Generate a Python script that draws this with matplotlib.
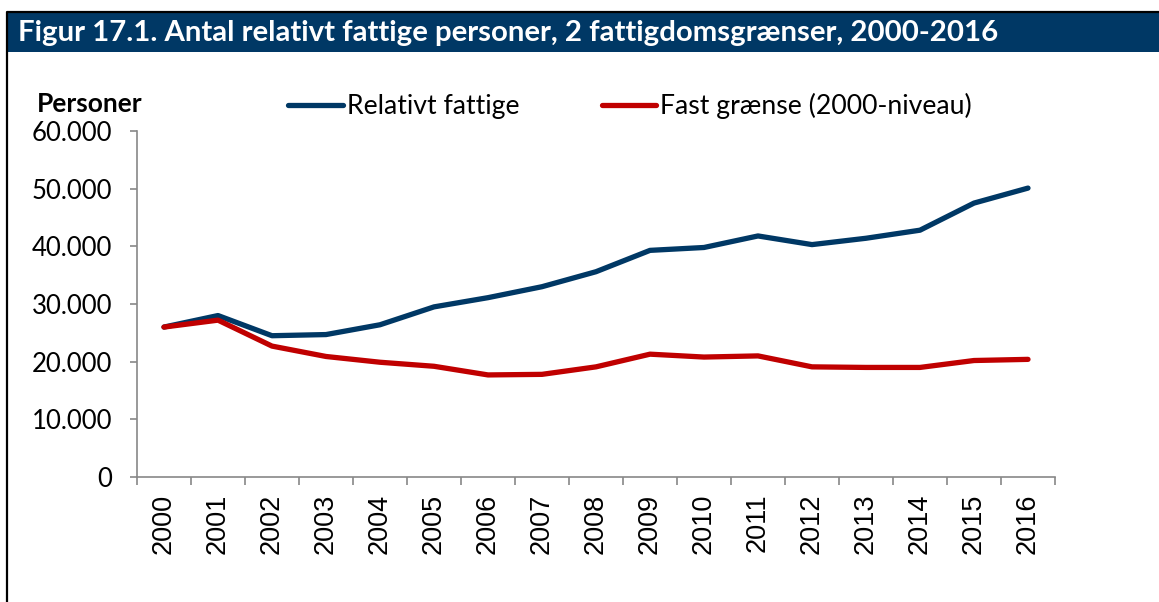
import numpy as np
import matplotlib
matplotlib.use('Agg')
import matplotlib.pyplot as plt
from matplotlib.patches import Rectangle
from matplotlib.lines import Line2D

years = [str(y) for y in range(2000, 2017)]
relativt_fattige = [26000, 28000, 24500, 24700, 26400, 29500, 31100, 33000, 35600,
                    39300, 39800, 41800, 40300, 41400, 42800, 47500, 50100]
fast_graense = [26000, 27200, 22700, 20900, 19900, 19200, 17700, 17800, 19100,
                21300, 20800, 21000, 19100, 19000, 19000, 20200, 20400]
y_ticks = [0, 10000, 20000, 30000, 40000, 50000, 60000]

BLUE = '#003865'
RED = '#C00000'
GREY = '#888888'
W, H = 1159, 602

fig = plt.figure(figsize=(W / 100, H / 100), dpi=100)

# frame + header bar
fig.add_artist(Line2D([7 / W, 7 / W, 1], [0, 1 - 12 / H, 1 - 12 / H],
                      color='black', lw=1.6, transform=fig.transFigure))
fig.add_artist(Rectangle((8 / W, 1 - 52 / H), 1 - 8 / W, 39 / H,
                         color=BLUE, transform=fig.transFigure, lw=0))
fig.text(18 / W, 1 - 33 / H,
         'Figur 17.1. Antal relativt fattige personer, 2 fattigdomsgrænser, 2000-2016',
         color='white', fontsize=21.2, fontweight='bold', family='Lato',
         va='center', ha='left')

ax = fig.add_axes([137 / W, 1 - 477 / H, (1055 - 137) / W, (477 - 131) / H])
x = np.arange(len(years))
l1, = ax.plot(x, relativt_fattige, color=BLUE, lw=3.8, solid_capstyle='round',
              solid_joinstyle='round', label='Relativt fattige')
l2, = ax.plot(x, fast_graense, color=RED, lw=3.8, solid_capstyle='round',
              solid_joinstyle='round', label='Fast grænse (2000-niveau)')

ax.set_xlim(-0.5, len(years) - 0.5)
ax.set_ylim(0, 60000)
ax.set_yticks(y_ticks)
ax.set_yticklabels([f'{v:,.0f}'.replace(',', '.') for v in y_ticks],
                   family='Lato', fontsize=18.5)
ax.set_xticks(x)
ax.set_xticklabels(years, rotation=90, family='Liberation Sans', fontsize=19.5)
ax.set_xticks(np.arange(len(years) + 1) - 0.5, minor=True)
ax.tick_params(axis='x', which='major', length=0, pad=12)
ax.tick_params(axis='x', which='minor', length=6, width=1.2, color=GREY,
               direction='out')
ax.tick_params(axis='y', length=5, width=1.2, color=GREY, direction='out',
               pad=13)
for s in ['top', 'right']:
    ax.spines[s].set_visible(False)
for s in ['left', 'bottom']:
    ax.spines[s].set_color(GREY)
    ax.spines[s].set_linewidth(1.2)

fig.text(37 / W, 1 - 104 / H, 'Personer', fontsize=19, fontweight='bold',
         family='Lato', va='center', ha='left')

leg = fig.legend(handles=[l1, l2], loc='center left',
                 bbox_to_anchor=(288 / W, 1 - 106 / H), ncol=2, frameon=False,
                 prop={'family': 'Lato', 'size': 19.2}, handlelength=2.05,
                 handletextpad=0.15, columnspacing=3.1, borderpad=0,
                 borderaxespad=0)

fig.savefig('out.png', dpi=100)
